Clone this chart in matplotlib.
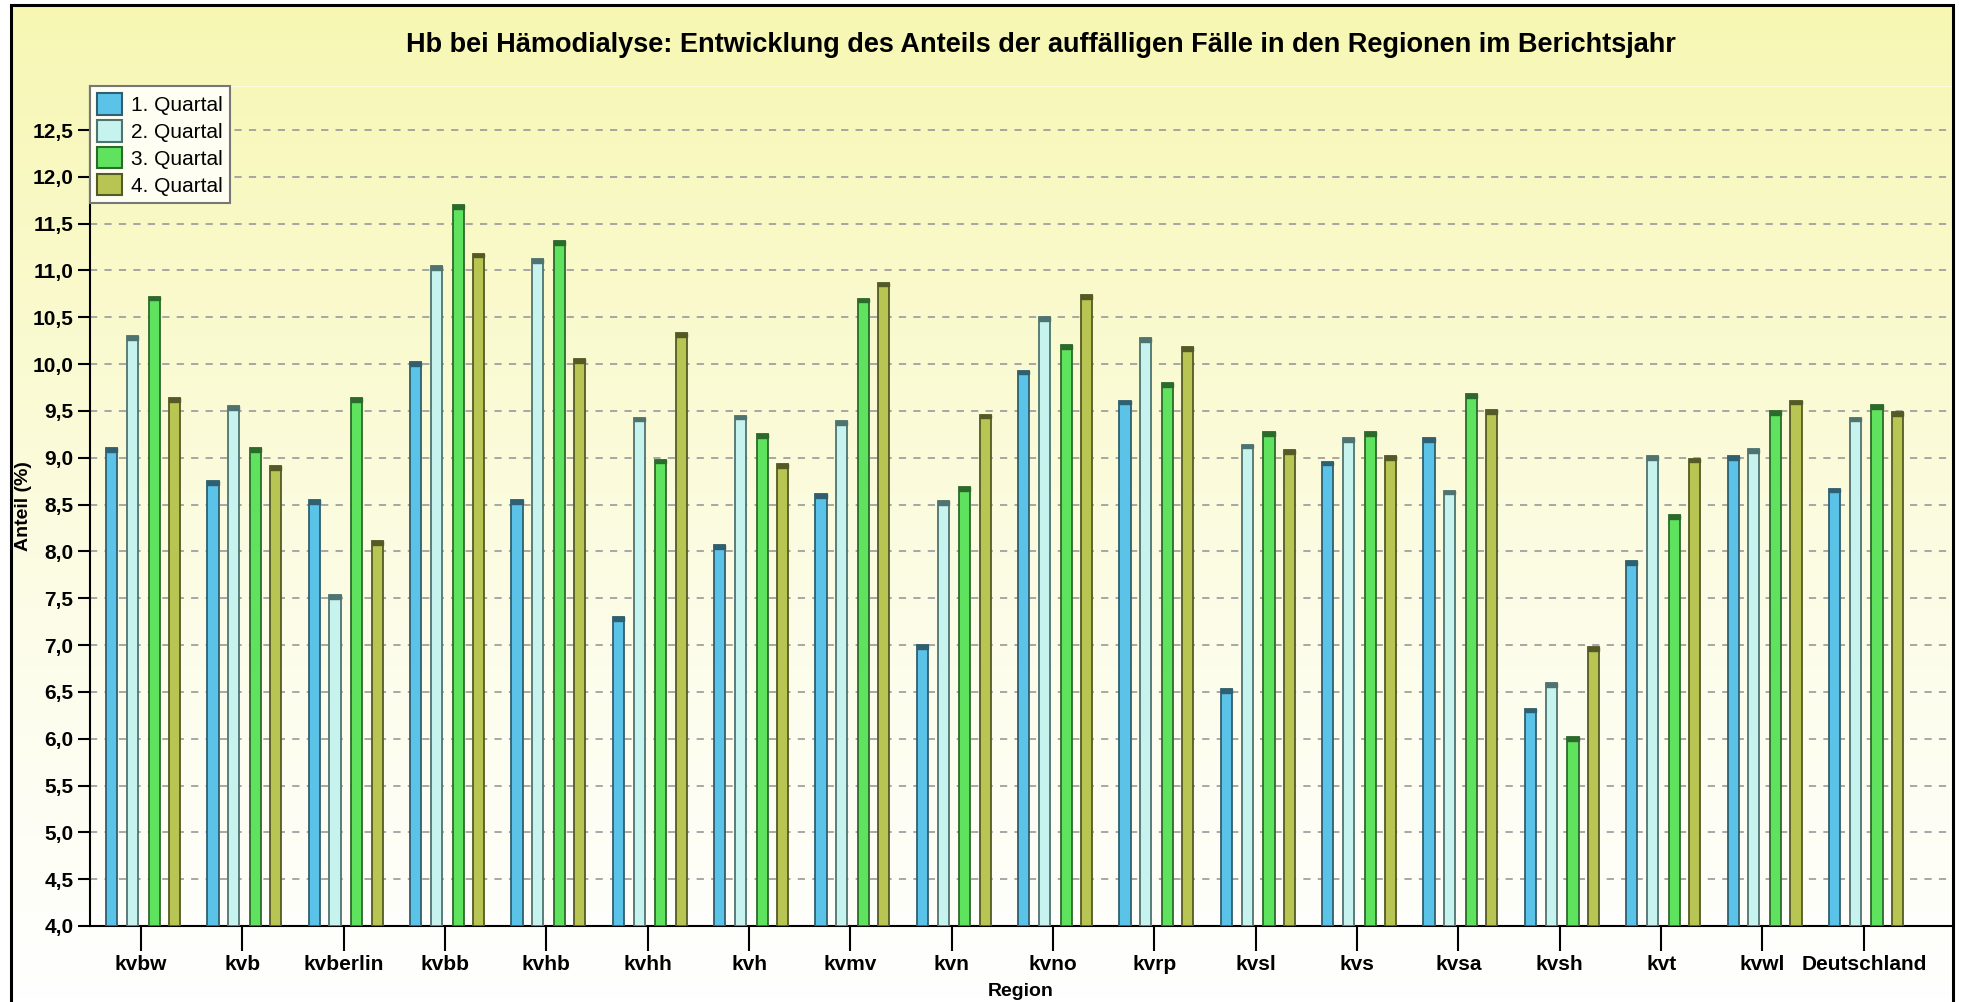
import numpy as np
import matplotlib
matplotlib.use('Agg')
import matplotlib.pyplot as plt
from matplotlib.patches import Rectangle
from matplotlib.colors import LinearSegmentedColormap
from matplotlib.ticker import FuncFormatter, MultipleLocator

plt.rcParams['font.family'] = ['Liberation Sans', 'DejaVu Sans']

# Daten
regionen = ['kvbw', 'kvb', 'kvberlin', 'kvbb', 'kvhb', 'kvhh', 'kvh', 'kvmv', 'kvn',
            'kvno', 'kvrp', 'kvsl', 'kvs', 'kvsa', 'kvsh', 'kvt', 'kvwl', 'Deutschland']
quartale = ['1. Quartal', '2. Quartal', '3. Quartal', '4. Quartal']
q1 = [9.1, 8.75, 8.55, 10.02, 8.55, 7.3, 8.07, 8.61, 7.0, 9.93, 9.61, 6.53, 8.96, 9.21, 6.32, 7.9, 9.02, 8.67]
q2 = [10.3, 9.55, 7.53, 11.05, 11.12, 9.43, 9.45, 9.39, 8.54, 10.5, 10.28, 9.14, 9.21, 8.65, 6.59, 9.02, 9.09, 9.43]
q3 = [10.72, 9.1, 9.64, 11.7, 11.31, 8.98, 9.25, 10.7, 8.69, 10.2, 9.8, 9.27, 9.27, 9.68, 6.02, 8.39, 9.5, 9.56]
q4 = [9.64, 8.91, 8.11, 11.18, 10.05, 10.33, 8.93, 10.87, 9.46, 10.74, 10.18, 9.08, 9.02, 9.51, 6.98, 8.99, 9.61, 9.49]

farben = ['#5bc3e8', '#c6f3ee', '#5fe35f', '#b9c553']
kanten = ['#2f5f70', '#4f7370', '#2c6a2c', '#545a25']

fig = plt.figure(figsize=(19.61, 10.02), dpi=100)

# Hintergrund mit Farbverlauf
bg = fig.add_axes([0, 0, 1, 1], zorder=-10)
grad = np.linspace(0, 1, 256).reshape(-1, 1)
cmap = LinearSegmentedColormap.from_list('bg', ['#f7f7b3', '#fafad0', '#fdfdec', '#ffffff'])
bg.imshow(grad, aspect='auto', cmap=cmap, extent=[11 / 1961, 1953 / 1961, 0, 1 - 5 / 1002],
          transform=fig.transFigure)
bg.set_xlim(0, 1)
bg.set_ylim(0, 1)
bg.axis('off')
fig.patches.append(Rectangle((11 / 1961, -0.01), (1953 - 11) / 1961, 1.01 - 5 / 1002,
                             transform=fig.transFigure, fill=False, edgecolor='black',
                             linewidth=2.2, zorder=5))

ax = fig.add_axes([90 / 1961, 1 - 926 / 1002, (1952 - 90) / 1961, (926 - 86) / 1002])
ax.patch.set_alpha(0)

x = np.arange(len(regionen))
offsets = [-0.29, -0.085, 0.13, 0.33]
breite = 0.11
for i, (werte, name) in enumerate(zip([q1, q2, q3, q4], quartale)):
    ax.bar(x + offsets[i], np.array(werte) - 4.0, bottom=4.0, width=breite, color=farben[i],
           edgecolor=kanten[i], linewidth=1.3, label=name, zorder=3)
    # dunkle Kappe oben
    ax.bar(x + offsets[i], 0.04, bottom=np.array(werte) - 0.04, width=breite,
           color=kanten[i], edgecolor=kanten[i], linewidth=1.0, zorder=4)

ax.set_xlim(-0.503, 17.87)
ax.set_ylim(4.0, 12.97)
ax.yaxis.set_major_locator(MultipleLocator(0.5))
ax.yaxis.set_major_formatter(FuncFormatter(lambda v, p: f'{v:.1f}'.replace('.', ',')))
ax.set_xticks(x)
ax.set_xticklabels(regionen)
ax.grid(axis='y', linestyle=(0, (4, 4)), color='#a0a0a0', linewidth=1.3, zorder=1)

for lab in ax.get_xticklabels() + ax.get_yticklabels():
    lab.set_fontweight('bold')
    lab.set_fontsize(15)
ax.tick_params(axis='y', length=9, width=1.5, pad=3)
ax.tick_params(axis='x', length=18, width=1.5, pad=3)

ax.spines['left'].set_linewidth(1.5)
ax.spines['bottom'].set_linewidth(1.5)
ax.spines['top'].set_color('#fbfbe0')
ax.spines['right'].set_visible(False)

ax.set_ylabel('Anteil (%)', fontsize=14, fontweight='bold')
ax.yaxis.set_label_coords(-0.031, 0.5)
ax.set_xlabel('Region', fontsize=14, fontweight='bold', labelpad=6)

fig.text(1041 / 1961, 1 - 45 / 1002,
         'Hb bei Hämodialyse: Entwicklung des Anteils der auffälligen Fälle in den Regionen im Berichtsjahr',
         ha='center', va='center', fontsize=19.5, fontweight='bold')

leg = ax.legend(loc='upper left', bbox_to_anchor=(0, 1), borderaxespad=0, fontsize=15,
                fancybox=False, framealpha=1, edgecolor='#777777', facecolor='#fefef2',
                handlelength=1.2, handleheight=1.2, handletextpad=0.4, labelspacing=0.25,
                borderpad=0.35)
leg.get_frame().set_linewidth(1.5)
for h in leg.legend_handles:
    h.set_linewidth(1.5)

fig.savefig('out.png', dpi=100)
